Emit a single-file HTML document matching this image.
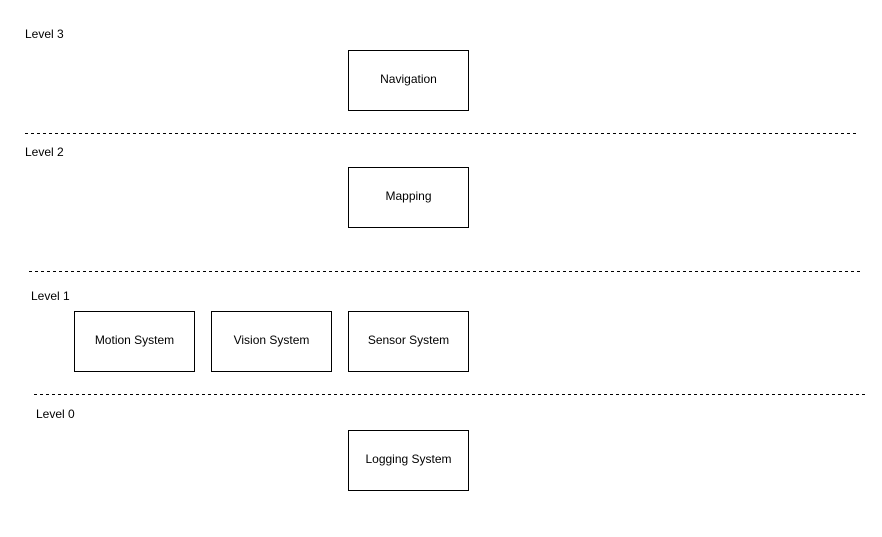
<!DOCTYPE html>
<html><head><meta charset="utf-8"><style>
html,body{margin:0;padding:0;background:#fff;}
svg{display:block;}
text{font-family:"Liberation Sans",sans-serif;font-size:12px;fill:#000;}
</style></head><body>
<svg width="882" height="537" viewBox="0 0 882 537" xmlns="http://www.w3.org/2000/svg">
<g stroke="#000" stroke-width="1" stroke-dasharray="3 3">
<line x1="25" y1="133.5" x2="856" y2="133.5"/>
<line x1="29" y1="271.5" x2="860" y2="271.5"/>
<line x1="34" y1="394.5" x2="865" y2="394.5"/>
</g>
<g fill="#fff" stroke="#000" stroke-width="1">
<rect x="348.5" y="50.5" width="120" height="60"/>
<rect x="348.5" y="167.5" width="120" height="60"/>
<rect x="74.5" y="311.5" width="120" height="60"/>
<rect x="211.5" y="311.5" width="120" height="60"/>
<rect x="348.5" y="311.5" width="120" height="60"/>
<rect x="348.5" y="430.5" width="120" height="60"/>
</g>
<text x="25" y="38">Level 3</text>
<text x="25" y="156">Level 2</text>
<text x="31" y="300">Level 1</text>
<text x="36" y="418">Level 0</text>
<g text-anchor="middle">
<text x="408.5" y="83">Navigation</text>
<text x="408.5" y="200">Mapping</text>
<text x="134.5" y="344">Motion System</text>
<text x="271.5" y="344">Vision System</text>
<text x="408.5" y="344">Sensor System</text>
<text x="408.5" y="463">Logging System</text>
</g>
</svg>
</body></html>
